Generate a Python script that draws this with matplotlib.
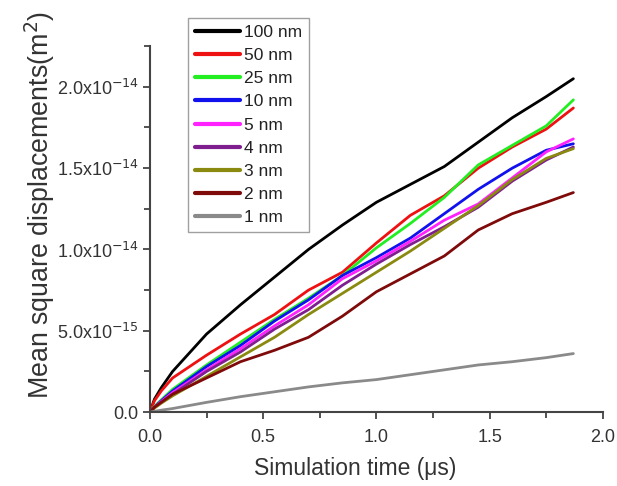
import matplotlib
matplotlib.use("Agg")
import matplotlib.pyplot as plt
from matplotlib.ticker import MultipleLocator, FixedLocator, FuncFormatter

plt.rcParams['font.family'] = ['Liberation Sans', 'DejaVu Sans']

time_us = [0.0, 0.02, 0.05, 0.1, 0.25, 0.4, 0.55, 0.7, 0.85, 1.0, 1.15, 1.3, 1.45, 1.6, 1.75, 1.87]

labels = ["100 nm", "50 nm", "25 nm", "10 nm", "5 nm", "4 nm", "3 nm", "2 nm", "1 nm"]
colors = ["#000000", "#ee1111", "#22ee22", "#1111ee", "#ff22ff", "#7f1f8f", "#8a8a10", "#7f0a0a", "#8a8a8a"]

# MSD values in units of 1e-14 m^2
msd_100nm = [0, 0.08, 0.15, 0.25, 0.48, 0.66, 0.83, 1.00, 1.15, 1.29, 1.40, 1.51, 1.66, 1.81, 1.94, 2.05]
msd_50nm = [0, 0.07, 0.13, 0.21, 0.35, 0.48, 0.60, 0.75, 0.86, 1.04, 1.21, 1.33, 1.50, 1.63, 1.74, 1.87]
msd_25nm = [0, 0.035, 0.075, 0.14, 0.29, 0.43, 0.57, 0.70, 0.84, 1.01, 1.16, 1.32, 1.52, 1.64, 1.76, 1.92]
msd_10nm = [0, 0.03, 0.07, 0.13, 0.28, 0.41, 0.56, 0.69, 0.84, 0.95, 1.07, 1.22, 1.37, 1.50, 1.61, 1.65]
msd_5nm = [0, 0.03, 0.065, 0.12, 0.26, 0.39, 0.53, 0.66, 0.82, 0.93, 1.05, 1.18, 1.28, 1.44, 1.60, 1.68]
msd_4nm = [0, 0.03, 0.06, 0.11, 0.25, 0.37, 0.51, 0.63, 0.78, 0.91, 1.03, 1.14, 1.26, 1.42, 1.55, 1.63]
msd_3nm = [0, 0.025, 0.055, 0.10, 0.22, 0.34, 0.46, 0.60, 0.73, 0.86, 0.99, 1.13, 1.27, 1.43, 1.56, 1.62]
msd_2nm = [0, 0.03, 0.06, 0.11, 0.21, 0.31, 0.38, 0.46, 0.59, 0.74, 0.85, 0.96, 1.12, 1.22, 1.29, 1.35]
msd_1nm = [0, 0.005, 0.012, 0.022, 0.06, 0.095, 0.125, 0.155, 0.18, 0.20, 0.23, 0.26, 0.29, 0.31, 0.335, 0.36]

series = [msd_100nm, msd_50nm, msd_25nm, msd_10nm, msd_5nm, msd_4nm, msd_3nm, msd_2nm, msd_1nm]
y_ticks = [0.0, 0.5, 1.0, 1.5, 2.0]
y_tick_labels = ["0.0", "5.0x10$^{-15}$", "1.0x10$^{-14}$", "1.5x10$^{-14}$", "2.0x10$^{-14}$"]
x_ticks = [0.0, 0.5, 1.0, 1.5, 2.0]

fig = plt.figure(figsize=(6.17, 4.86), dpi=100)
ax = fig.add_axes([0.243, 0.152, 0.734, 0.753])

for vals, lab, c in zip(series, labels, colors):
    ax.plot(time_us, [v * 1e-14 for v in vals], color=c, lw=2.0, label=lab,
            solid_capstyle='round', solid_joinstyle='round')

ax.set_xlim(0, 2.0)
ax.set_ylim(0, 2.25e-14)
ax.xaxis.set_major_locator(FixedLocator(x_ticks))
ax.xaxis.set_minor_locator(MultipleLocator(0.25))
ax.yaxis.set_major_locator(FixedLocator([v * 1e-14 for v in y_ticks]))
ax.yaxis.set_minor_locator(MultipleLocator(0.25e-14))
ax.xaxis.set_major_formatter(FuncFormatter(lambda v, p: f"{v:.1f}"))
ax.yaxis.set_major_formatter(FuncFormatter(
    lambda v, p: y_tick_labels[int(round(v / 0.5e-14))] if 0 <= round(v / 0.5e-14) < len(y_tick_labels) else ""))
ax.yaxis.get_offset_text().set_visible(False)

tc = "#444444"
for s in ['top', 'right']:
    ax.spines[s].set_visible(False)
for s in ['left', 'bottom']:
    ax.spines[s].set_color(tc)
    ax.spines[s].set_linewidth(1.5)
ax.tick_params(which='both', direction='out', color=tc, width=1.3, labelcolor="#333333", labelsize=13)
ax.tick_params(which='major', length=5)
ax.tick_params(which='minor', length=4)
ax.tick_params(axis='x', pad=7)
ax.tick_params(axis='y', pad=3)

ax.set_xlabel("Simulation time (\u03bcs)", fontsize=16.5, color="#333333", va='center')
ax.xaxis.set_label_coords(0.453, -0.153)
ax.set_ylabel("Mean square displacements(m$^{2}$)", fontsize=19.3, color="#333333", va='center')
ax.yaxis.set_label_coords(-0.243, 0.566)

leg = fig.legend(loc='upper left', bbox_to_anchor=(0.305, 0.963), fontsize=12.5, frameon=True,
                 fancybox=False, edgecolor="#888888", handlelength=2.6, handletextpad=0.2,
                 labelspacing=0.46, borderpad=0.4, borderaxespad=0)
leg.get_frame().set_linewidth(1.0)
for t in leg.get_texts():
    t.set_color("#222222")
for h in leg.get_lines():
    h.set_linewidth(3)

fig.savefig("out.png", dpi=100)
